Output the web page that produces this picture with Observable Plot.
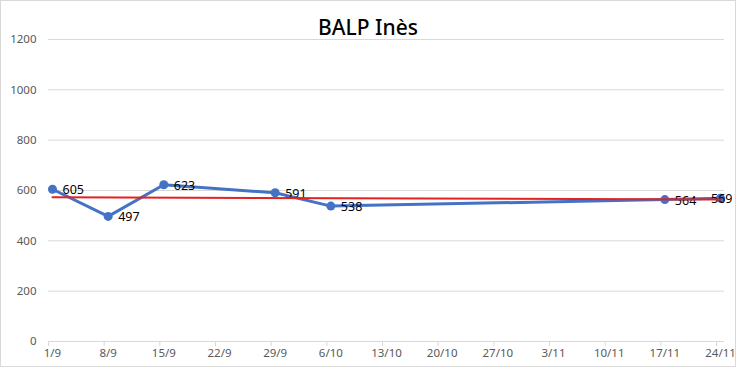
<!DOCTYPE html>
<html><head><meta charset="utf-8">
<script src="https://cdn.jsdelivr.net/npm/d3@7"></script>
<script src="https://cdn.jsdelivr.net/npm/@observablehq/plot@0.6"></script>
<style>
body{margin:0;background:#fff;}
#wrap{position:relative;width:736px;height:367px;box-sizing:border-box;border:1px solid #d9d9d9;background:#fff;overflow:hidden;}
#title{position:relative;z-index:1;height:28px;line-height:28px;text-align:center;font-family:"Noto Sans",sans-serif;font-size:21px;font-weight:500;color:#000;}
#title span{position:relative;top:12px;}
</style></head><body>
<div id="wrap"><div id="title"><span>BALP Inès</span></div><div id="chart"></div></div>
<script>
const dates = ["1/9","8/9","15/9","29/9","6/10","17/11","24/11"];
const values = [605,497,623,591,538,564,569];
const tickLabels = ["1/9","8/9","15/9","22/9","29/9","6/10","13/10","20/10","27/10","3/11","10/11","17/11","24/11"];
const yTicks = [0,200,400,600,800,1000,1200];
const year = 2023;

const parse = s => { const [d,m] = s.split("/").map(Number); return new Date(Date.UTC(year, m-1, d)); };
const data = dates.map((s,i)=>({date: parse(s), label: String(values[i]), value: values[i], last: i === dates.length - 1}));
const tickDates = tickLabels.map(parse);
const halfDay = 12*3600*1000;
const boundaries = tickDates.map(d => new Date(+d - halfDay));
const dom = [new Date(+tickDates[0]-halfDay), new Date(+tickDates[tickDates.length-1]+halfDay)];
const fmt = d => { const i = tickDates.findIndex(t => +t === +d); return i >= 0 ? tickLabels[i] : ""; };

const plot = Plot.plot({
  width: 734,
  height: 337,
  marginLeft: 47,
  marginRight: 11,
  marginTop: 10,
  marginBottom: 25,
  style: {fontFamily: "Noto Sans, sans-serif", fontSize: "11.5px", color: "#595959", background: "transparent"},
  x: {type: "utc", domain: dom, axis: null, label: null},
  y: {domain: [0, 1200], axis: null, label: null},
  marks: [
    Plot.gridY(yTicks, {stroke: "#d9d9d9", strokeOpacity: 1}),
    Plot.axisY(yTicks, {tickSize: 0, tickPadding: 12, fill: "#595959", fontSize: 11.5, label: null, tickFormat: d => String(d)}),
    Plot.axisX(boundaries, {tickSize: 5, stroke: "#d9d9d9", strokeOpacity: 1, tickFormat: () => "", label: null}),
    Plot.axisX(tickDates, {tickSize: 0, tickPadding: 7, tickFormat: fmt, fill: "#595959", fontSize: 11.5, label: null}),
    Plot.line(data, {x: "date", y: "value", stroke: "#4472c4", strokeWidth: 3}),
    Plot.dot(data, {x: "date", y: "value", r: 4.5, fill: "#4472c4", stroke: "none"}),
    Plot.text(data, {filter: d => !d.last, x: "date", y: "value", text: "label", textAnchor: "start", dx: 10, dy: 1, fill: "#000", fontSize: 12.5}),
    Plot.text(data, {filter: d => d.last, x: "date", y: "value", text: "label", textAnchor: "end", dx: 12, dy: 1, fill: "#000", fontSize: 12.5}),
    Plot.linearRegressionY(data, {x: "date", y: "value", stroke: "#e32222", strokeWidth: 2, ci: 0})
  ]
});
document.getElementById("chart").appendChild(plot);
</script>
</body></html>
